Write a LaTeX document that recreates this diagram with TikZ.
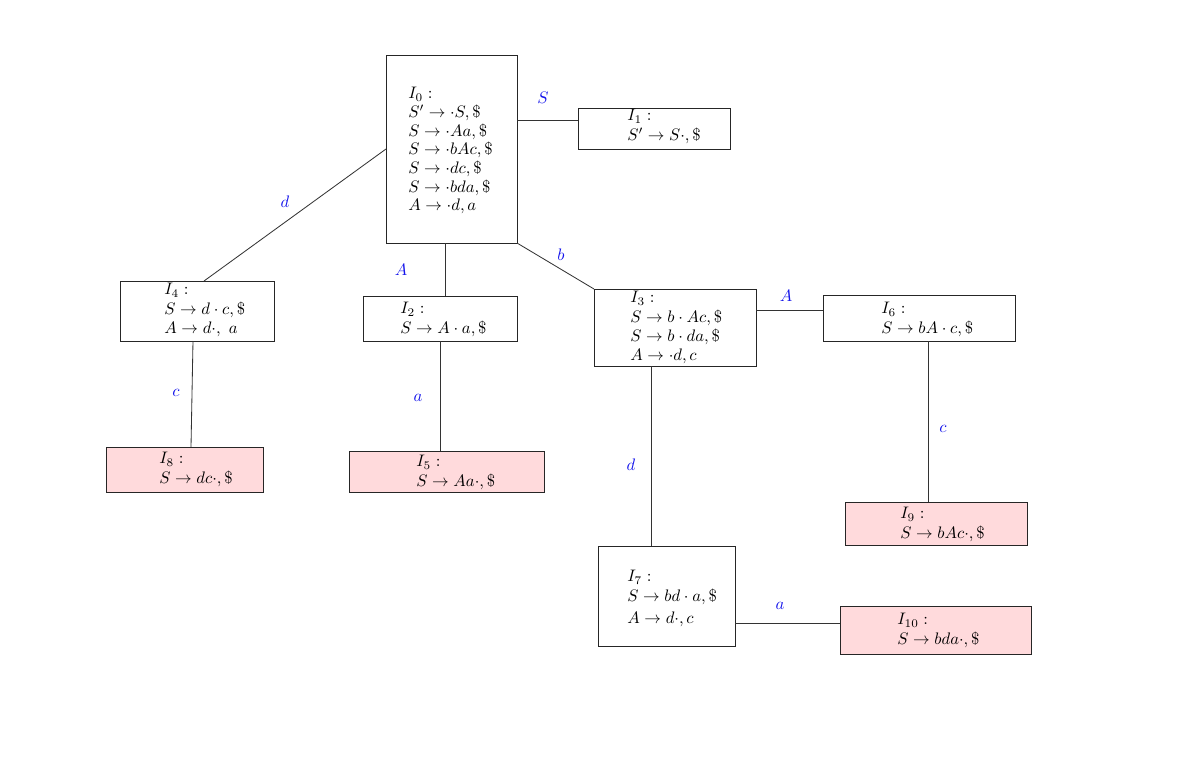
\documentclass[tikz,border=0pt]{standalone}
\usetikzlibrary{calc}
\definecolor{finalpink}{RGB}{255,218,220}
\definecolor{edgeblue}{RGB}{20,20,235}
\begin{document}
\begin{tikzpicture}[x=0.6pt,y=-0.6pt,
  box/.style={draw=black!85, line width=0.5pt, inner sep=0pt, outer sep=0pt},
  finalbox/.style={box, fill=finalpink},
  itemtext/.style={anchor=north west, inner sep=0pt, align=left, font=\fontsize{10}{11.6}\selectfont},
  edgelabel/.style={text=edgeblue, inner sep=0pt, font=\fontsize{10}{12}\selectfont},
  conn/.style={draw=black!80, line width=0.5pt}]
\useasboundingbox (0,0) rectangle (1200,757);
% boxes
\node[box, minimum width=78.6pt, minimum height=112.8pt] (I0) at (451.5,149) {};
\node[box, minimum width=91.2pt, minimum height=24.6pt] (I1) at (654,128.5) {};
\node[box, minimum width=92.4pt, minimum height=36pt] (I4) at (197,311) {};
\node[box, minimum width=92.4pt, minimum height=27pt] (I2) at (440,318.5) {};
\node[box, minimum width=97.2pt, minimum height=46.2pt] (I3) at (675,327.5) {};
\node[box, minimum width=115.2pt, minimum height=27.6pt] (I6) at (919,318) {};
\node[finalbox, minimum width=94.2pt, minimum height=27pt] (I8) at (184.5,469.5) {};
\node[finalbox, minimum width=117pt, minimum height=24.6pt] (I5) at (446.5,471.5) {};
\node[finalbox, minimum width=109.2pt, minimum height=25.8pt] (I9) at (936,523.5) {};
\node[box, minimum width=82.2pt, minimum height=60pt] (I7) at (666.5,596) {};
\node[finalbox, minimum width=114.6pt, minimum height=28.8pt] (I10) at (935.5,630) {};
% texts
\node[itemtext, font=\fontsize{10}{11.2}\selectfont] (t0) at (408,87) {$I_0:$\\ $S'\to\cdot S,\$$\\ $S\to\cdot Aa,\$$\\ $S\to\cdot bAc,\$$\\ $S\to\cdot dc,\$$\\ $S\to\cdot bda,\$$\\ $A\to\cdot d,a$};
\node[itemtext] (t1) at (627,109) {$I_1:$\\ $S'\to S\cdot,\$$};
\node[itemtext] (t4) at (164,283) {$I_4:$\\ $S\to d\cdot c,\$$\\ $A\to d\cdot,\ a$};
\node[itemtext] (t2) at (400,302) {$I_2:$\\ $S\to A\cdot a,\$$};
\node[itemtext] (t3) at (630,291) {$I_3:$\\ $S\to b\cdot Ac,\$$\\ $S\to b\cdot da,\$$\\ $A\to\cdot d,c$};
\node[itemtext] (t6) at (881,302) {$I_6:$\\ $S\to bA\cdot c,\$$};
\node[itemtext] (t8) at (159,452) {$I_8:$\\ $S\to dc\cdot,\$$};
\node[itemtext] (t5) at (416,455) {$I_5:$\\ $S\to Aa\cdot,\$$};
\node[itemtext] (t9) at (900,507) {$I_9:$\\ $S\to bAc\cdot,\$$};
\node[itemtext] (t7) at (627,570) {$I_7:$\\ $S\to bd\cdot a,\$$\\[2pt] $A\to d\cdot,c$};
\node[itemtext] (t10) at (897,613) {$I_{10}:$\\ $S\to bda\cdot,\$$};
% connectors
\draw[conn] (I0.east |- 0,120) -- (I1.west |- 0,120);
\draw[conn] (I0.west) -- (I4.north -| 204,0);
\draw[conn] (I0.south -| 445,0) -- (I2.north -| 445,0);
\draw[conn] (I0.south east) -- (I3.north west);
\draw[conn] (I3.east |- 0,310) -- (I6.west |- 0,310);
\draw[conn] (I4.south -| 193,0) -- (I8.north -| 191,0);
\draw[conn] (I2.south) -- (I5.north -| I2.south);
\draw[conn] (I3.south -| 651,0) -- (I7.north -| 651,0);
\draw[conn] (I6.south -| 928,0) -- (I9.north -| 928,0);
\draw[conn] (I7.east |- 0,623) -- (I10.west |- 0,623);
% labels
\node[edgelabel] (lS) at (543,98) {$S$};
\node[edgelabel] (ld0) at (285,202) {$d$};
\node[edgelabel] (lA0) at (401,270) {$A$};
\node[edgelabel] (lb) at (561,255) {$b$};
\node[edgelabel] (lA3) at (786,296) {$A$};
\node[edgelabel] (lc4) at (176,393) {$c$};
\node[edgelabel] (la2) at (418,398) {$a$};
\node[edgelabel] (ld3) at (631,465) {$d$};
\node[edgelabel] (lc6) at (943,429) {$c$};
\node[edgelabel] (la7) at (780,606) {$a$};
\end{tikzpicture}
\end{document}
